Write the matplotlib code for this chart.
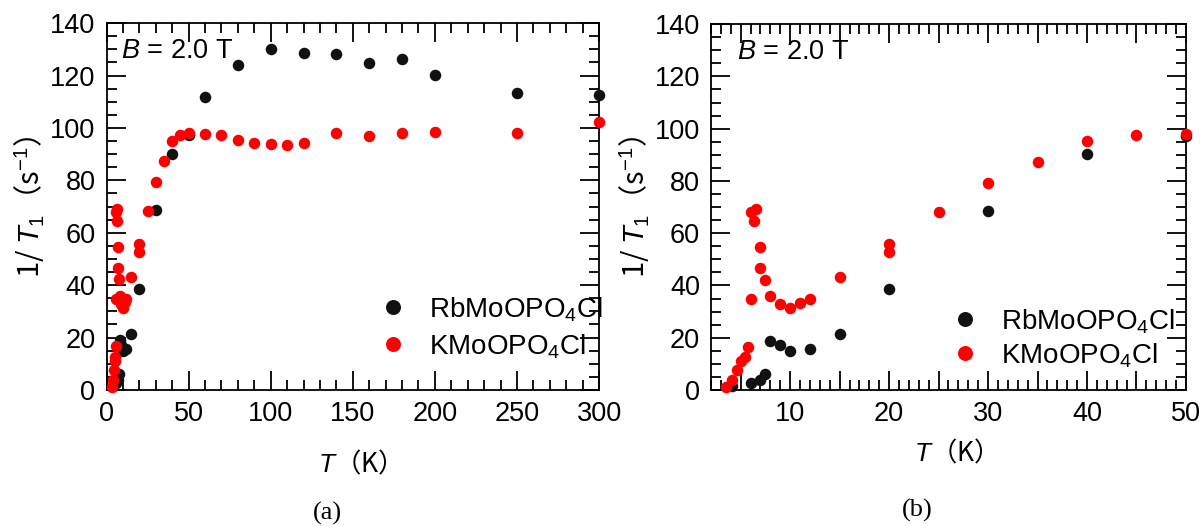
import matplotlib
matplotlib.use("Agg")
import matplotlib.pyplot as plt
from matplotlib.ticker import MultipleLocator, FuncFormatter

# data: temperature (K) and 1/T1 (s^-1)
rb_T = [4.1, 6.0, 7.0, 7.5, 8.0, 9.0, 10.0, 12.0, 15.0, 20.0, 30.0, 40.0, 50.0,
        60.0, 80.0, 100.0, 120.0, 140.0, 160.0, 180.0, 200.0, 250.0, 300.0]
rb_rate = [1.4, 2.5, 3.8, 6.1, 18.9, 17.1, 14.9, 15.7, 21.5, 38.6, 68.5, 90.2, 97.3,
           112.0, 124.0, 130.2, 128.6, 128.3, 124.8, 126.3, 120.3, 113.2, 112.4]

k_T = [3.5, 4.1, 4.6, 5.0, 5.4, 5.7, 6.0, 6.0, 6.3, 6.5, 7.0, 7.0, 7.5, 8.0, 9.0,
       10.0, 11.0, 12.0, 15.0, 20.0, 20.0, 25.0, 30.0, 35.0, 40.0, 45.0, 50.0,
       60.0, 70.0, 80.0, 90.0, 100.0, 110.0, 120.0, 140.0, 160.0, 180.0, 200.0,
       250.0, 300.0]
k_rate = [1.3, 3.8, 7.6, 11.2, 12.5, 16.6, 34.7, 68.1, 64.6, 69.1, 54.7, 46.5, 42.2,
          36.0, 32.9, 31.3, 33.4, 34.9, 43.1, 55.7, 52.7, 68.3, 79.3, 87.3, 95.1,
          97.4, 98.0, 97.6, 97.4, 95.3, 94.3, 93.8, 93.4, 94.3, 98.0, 96.9, 98.2,
          98.3, 98.2, 102.3]

plt.rcParams['font.family'] = ['Liberation Sans', 'DejaVu Sans']
plt.rcParams['mathtext.fontset'] = 'custom'
plt.rcParams['mathtext.rm'] = 'Liberation Sans'
plt.rcParams['mathtext.it'] = 'Liberation Sans:italic'
plt.rcParams['axes.linewidth'] = 1.3

fig = plt.figure(figsize=(12, 5.26), dpi=100)
ax_a = fig.add_axes([0.0888, 0.2586, 0.4104, 0.6974])
ax_b = fig.add_axes([0.5925, 0.2586, 0.3958, 0.6955])


def style_axis(ax, xlim, xmajor, xminor, xlabel_every, xpad, btx):
    ax.plot(rb_T, rb_rate, 'o', color='#111111', ms=8.3, mew=0,
            label='RbMoOPO$_4$Cl', clip_on=False, zorder=3)
    ax.plot(k_T, k_rate, 'o', color='#ff0000', ms=8.3, mew=0,
            label='KMoOPO$_4$Cl', clip_on=False, zorder=4)
    ax.set_xlim(*xlim)
    ax.set_ylim(0, 140)
    ax.xaxis.set_major_locator(MultipleLocator(xmajor))
    ax.xaxis.set_minor_locator(MultipleLocator(xminor))
    ax.xaxis.set_major_formatter(FuncFormatter(
        lambda v, p: '%d' % round(v) if round(v) % xlabel_every == 0 else ''))
    ax.yaxis.set_major_locator(MultipleLocator(20))
    ax.yaxis.set_minor_locator(MultipleLocator(5))
    ax.tick_params(which='both', direction='in', top=True, right=True,
                   labelsize=19.5, width=1.3)
    ax.tick_params(which='major', length=14, pad=8)
    ax.tick_params(which='minor', length=7)
    ax.set_ylabel('1/ $T_1$（s$^{-1}$）', fontsize=21, family='Noto Sans CJK JP',
                  labelpad=2)
    ax.set_xlabel('$T$（K）', fontsize=19, family='Noto Sans CJK JP', labelpad=xpad)
    ax.text(btx, 0.96, '$B$ = 2.0 T', transform=ax.transAxes,
            fontsize=19.5, va='top', ha='left')


style_axis(ax_a, (0, 300), 50, 10, 50, 16, 0.03)
style_axis(ax_b, (2, 50), 5, 1, 10, 8, 0.055)

ax_a.legend(loc='lower right', frameon=False, fontsize=20, markerscale=1.3,
            handletextpad=0.3, labelspacing=0.3, borderaxespad=0.0,
            bbox_to_anchor=(1.03, 0.05))
ax_b.legend(loc='lower right', frameon=False, fontsize=20, markerscale=1.3,
            handletextpad=0.3, labelspacing=0.2, borderaxespad=0.0,
            bbox_to_anchor=(1.0, 0.025))

fig.text(0.273, 0.012, '(a)', fontsize=19, family='Liberation Serif', ha='center')
fig.text(0.764, 0.018, '(b)', fontsize=19, family='Liberation Serif', ha='center')

fig.savefig('out.png', dpi=100)
